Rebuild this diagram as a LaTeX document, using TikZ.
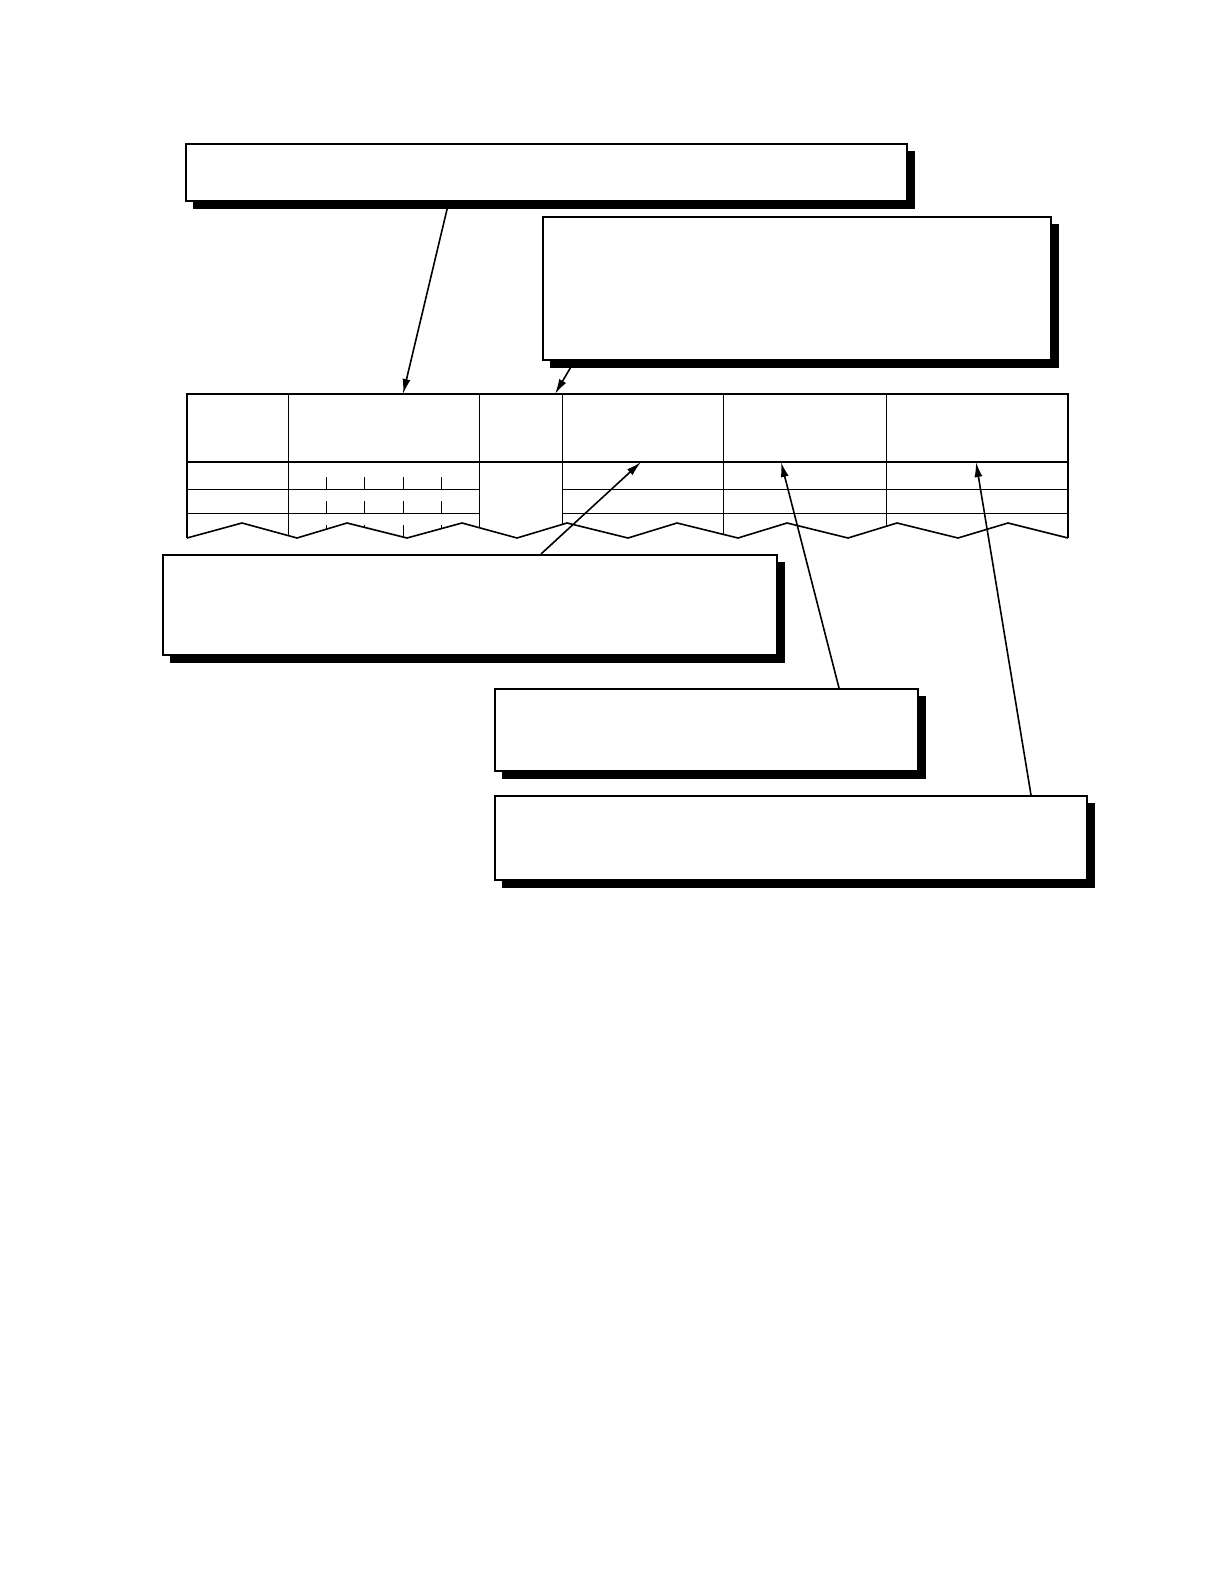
\documentclass[tikz,border=0pt]{standalone}
\usetikzlibrary{shadows,arrows.meta}
\begin{document}
\begin{tikzpicture}[x=1pt,y=-1pt,
  callout/.style={draw=black, line width=1.6pt, fill=white, rectangle, inner sep=0pt, anchor=north west,
    general shadow={fill=black, draw=black, shadow xshift=7.5pt, shadow yshift=-7.5pt}},
  thinline/.style={line width=0.9pt},
  midline/.style={line width=1.2pt},
  outerline/.style={line width=1.6pt, line join=miter},
  pointer/.style={line width=1.6pt, -{Latex[length=15pt,width=8pt]}}
]
\useasboundingbox (0,0) rectangle (1224,1584);

% call-out boxes (empty)
\node[callout, minimum width=721pt, minimum height=57pt] (A) at (185,143) {};
\node[callout, minimum width=508pt, minimum height=143pt] (B) at (542,216) {};
\node[callout, minimum width=614pt, minimum height=100pt] (C) at (162,554) {};
\node[callout, minimum width=423pt, minimum height=82pt] (D) at (494,688) {};
\node[callout, minimum width=592pt, minimum height=84pt] (E) at (494,795) {};

% table interior
\begin{scope}
  \clip (187,538) -- (242,523) -- (297,538) -- (347,523) -- (407,538) -- (462,523) -- (517,538) -- (567,523)
     -- (628,538) -- (677,523) -- (738,538) -- (787,523) -- (848,538) -- (897,523) -- (958,538) -- (1008,523)
     -- (1068,538) -- (1068,380) -- (187,380) -- cycle;
  \draw[midline] (187,462) -- (1068,462);
  \foreach \yy in {489,513} {
    \draw[thinline] (187,\yy) -- (479.7,\yy);
    \draw[thinline] (562.5,\yy) -- (1068,\yy);
  }
  \foreach \xx in {288,479.7,562.5,723,886.7} {
    \draw[thinline] (\xx,394) -- (\xx,545);
  }
  \foreach \xx in {326.3,364.7,403,441.3} {
    \draw[thinline] (\xx,477) -- (\xx,489);
    \draw[thinline] (\xx,501) -- (\xx,513);
    \draw[thinline] (\xx,525) -- (\xx,545);
  }
\end{scope}

% table outline with torn (zigzag) bottom
\draw[outerline] (187,538) -- (187,394) -- (1068,394) -- (1068,538);
\draw[outerline] (187,538) -- (242,523) -- (297,538) -- (347,523) -- (407,538) -- (462,523) -- (517,538) -- (567,523)
     -- (628,538) -- (677,523) -- (738,538) -- (787,523) -- (848,538) -- (897,523) -- (958,538) -- (1008,523)
     -- (1068,538);

% connector end points
\coordinate (a1) at (449,201);
\coordinate (t1) at (403,394);
\coordinate (b1) at (575,360);
\coordinate (t2) at (555,394);
\coordinate (c1) at (541,554);
\coordinate (t3) at (641,462);
\coordinate (d1) at (839,688);
\coordinate (t4) at (781,462);
\coordinate (e1) at (1031,795);
\coordinate (t5) at (976,462);

\draw[pointer] (a1) -- (t1);
\draw[pointer] (b1) -- (t2);
\draw[pointer] (c1) -- (t3);
\draw[pointer] (d1) -- (t4);
\draw[pointer] (e1) -- (t5);
\end{tikzpicture}
\end{document}
